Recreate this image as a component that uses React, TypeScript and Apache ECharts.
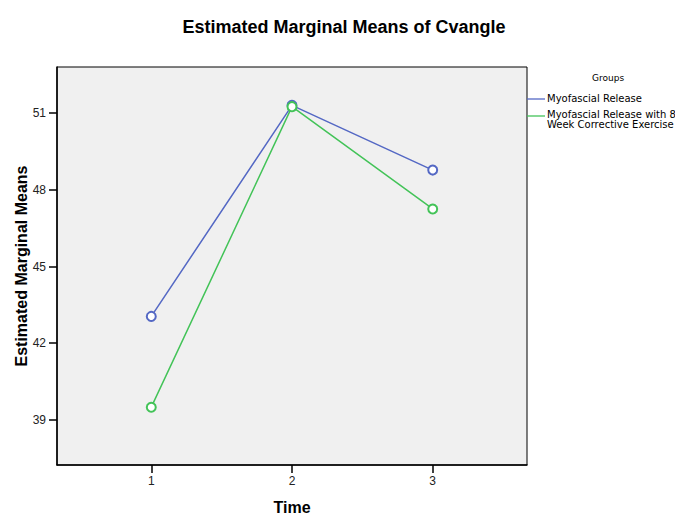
import React, { useEffect, useRef } from "react";
import * as echarts from "echarts";

const times = [1, 2, 3];
const seriesNames = ["Myofascial Release", "Myofascial Release with 8\nWeek Corrective Exercise"];
const releaseValues = [43.05, 51.3, 48.77];
const correctiveValues = [39.5, 51.25, 47.25];
const yTicks = [39, 42, 45, 48, 51];
const colors = ["#5468c4", "#43c358"];

export default function App() {
  const ref = useRef<HTMLDivElement>(null);
  useEffect(() => {
    if (!ref.current) return;
    const chart = echarts.init(ref.current, null, { renderer: "svg" });
    const font = "'Liberation Sans', Arial, sans-serif";
    const small = "'DejaVu Sans', sans-serif";
    const mk = (vals: number[]) => times.map((t, i) => [t, vals[i]]);
    chart.setOption({
      animation: false,
      backgroundColor: "#ffffff",
      title: {
        text: "Estimated Marginal Means of Cvangle",
        left: 339,
        textAlign: "center",
        top: 13,
        textStyle: { fontFamily: font, fontSize: 18, fontWeight: "bold", color: "#000" },
      },
      grid: {
        left: 57,
        top: 67,
        right: 148,
        bottom: 50,
        show: true,
        backgroundColor: "#f0f0f0",
        borderColor: "#000",
        borderWidth: 1,
        outerBoundsMode: "none",
        containLabel: false,
      },
      xAxis: {
        type: "value",
        min: 0.33,
        max: 3.67,
        name: "Time",
        nameLocation: "middle",
        nameGap: 34,
        nameMoveOverlap: false,
        nameTextStyle: { fontFamily: font, fontSize: 16, fontWeight: "bold", color: "#000" },
        axisLine: { show: true, lineStyle: { color: "#000", width: 1.5 } },
        axisTick: { show: true, customValues: times, length: 8, lineStyle: { color: "#000", width: 1.5 } },
        axisLabel: { customValues: times, fontFamily: font, fontSize: 12, color: "#222", margin: 10 },
        splitLine: { show: false },
      },
      yAxis: {
        type: "value",
        min: 37.24,
        max: 52.8,
        name: "Estimated Marginal Means",
        nameLocation: "middle",
        nameGap: 28,
        nameMoveOverlap: false,
        nameTextStyle: { fontFamily: font, fontSize: 16, fontWeight: "bold", color: "#000" },
        axisLine: { show: true, lineStyle: { color: "#000", width: 1.5 } },
        axisTick: { show: true, customValues: yTicks, length: 8, lineStyle: { color: "#000", width: 1.5 } },
        axisLabel: { customValues: yTicks, fontFamily: font, fontSize: 12, color: "#222", margin: 11 },
        splitLine: { show: false },
      },
      series: [
        {
          name: seriesNames[0],
          type: "line",
          data: mk(releaseValues),
          symbol: "emptyCircle",
          symbolSize: 9,
          color: colors[0],
          lineStyle: { width: 1.5, color: colors[0] },
          itemStyle: { color: colors[0], borderWidth: 1 },
        },
        {
          name: seriesNames[1],
          type: "line",
          data: mk(correctiveValues),
          symbol: "emptyCircle",
          symbolSize: 9,
          color: colors[1],
          lineStyle: { width: 1.5, color: colors[1] },
          itemStyle: { color: colors[1], borderWidth: 1 },
        },
      ],
      graphic: [
        {
          type: "text",
          left: 592,
          top: 73,
          style: { text: "Groups", fontFamily: small, fontSize: 9, fill: "#000" },
        },
        {
          type: "line",
          shape: { x1: 527, y1: 99, x2: 545, y2: 99 },
          style: { stroke: colors[0], lineWidth: 1.3 },
        },
        {
          type: "text",
          left: 547,
          top: 93,
          style: { text: seriesNames[0], fontFamily: small, fontSize: 10, fill: "#000" },
        },
        {
          type: "line",
          shape: { x1: 527, y1: 116, x2: 545, y2: 116 },
          style: { stroke: colors[1], lineWidth: 1.3 },
        },
        {
          type: "text",
          left: 547,
          top: 109,
          style: { text: seriesNames[1], fontFamily: small, fontSize: 10, lineHeight: 10, fill: "#000" },
        },
      ],
    });
    return () => chart.dispose();
  }, []);
  return <div ref={ref} style={{ position: "fixed", left: 0, top: 0, width: 675, height: 515 }} />;
}
